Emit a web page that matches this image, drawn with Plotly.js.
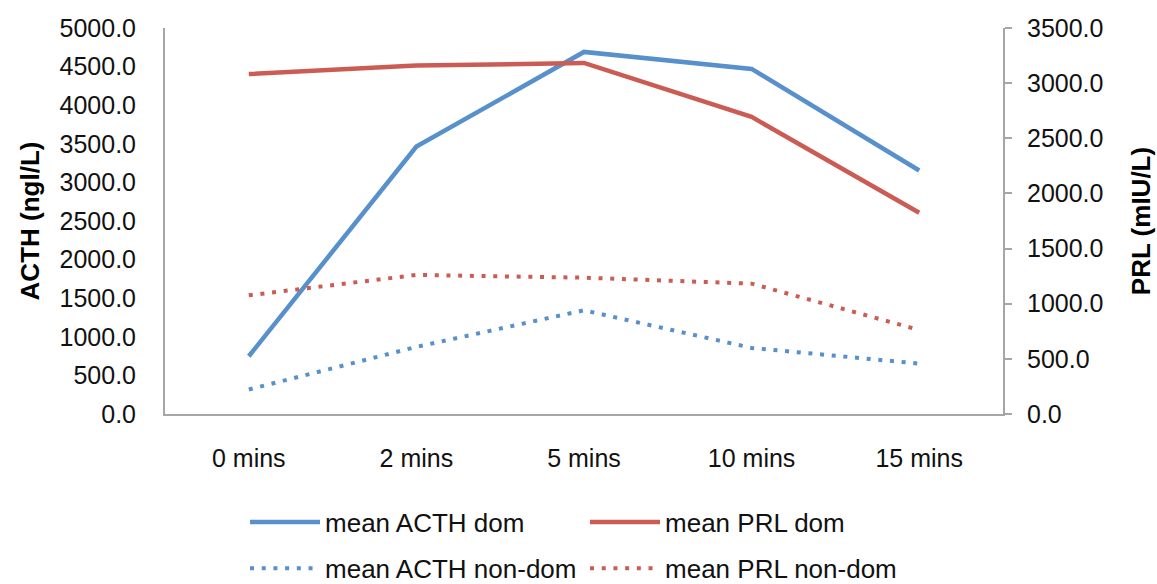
<!DOCTYPE html>
<html>
<head>
<meta charset="utf-8">
<script src="https://cdn.plot.ly/plotly-3.0.1.min.js"></script>
<style>html,body{margin:0;padding:0;background:#fff;}#chart{width:1157px;height:584px;}</style>
</head>
<body>
<div id="chart"></div>
<script>
const categories = ["0 mins", "2 mins", "5 mins", "10 mins", "15 mins"];
const acthDom = [748, 3464, 4690, 4470, 3154];
const prlDom = [3083, 3159, 3183, 2694, 1825];
const acthNonDom = [317, 869, 1343, 856, 653];
const prlNonDom = [1076, 1261, 1236, 1182, 762];
const leftTicks = [0, 500, 1000, 1500, 2000, 2500, 3000, 3500, 4000, 4500, 5000];
const rightTicks = [0, 500, 1000, 1500, 2000, 2500, 3000, 3500];

const blue = "#5790CB";
const red = "#CB5C54";
const dotDash = "4px,7.7px";
const font = {family: "Liberation Sans, Arial, sans-serif", size: 25, color: "#111"};
const legendFont = {family: "Liberation Sans, Arial, sans-serif", size: 26, color: "#111"};
const titleFont = {family: "Liberation Sans, Arial, sans-serif", size: 26, color: "#000", weight: "bold"};

const traces = [
  {x: categories, y: acthDom, name: "mean ACTH dom", type: "scatter", mode: "lines",
   line: {color: blue, width: 4.5}, yaxis: "y", legend: "legend"},
  {x: categories, y: prlDom, name: "mean PRL dom", type: "scatter", mode: "lines",
   line: {color: red, width: 4.5}, yaxis: "y2", legend: "legend"},
  {x: categories, y: acthNonDom, name: "mean ACTH non-dom", type: "scatter", mode: "lines",
   line: {color: blue, width: 4, dash: dotDash}, yaxis: "y", legend: "legend2"},
  {x: categories, y: prlNonDom, name: "mean PRL non-dom", type: "scatter", mode: "lines",
   line: {color: red, width: 4, dash: dotDash}, yaxis: "y2", legend: "legend2"}
];

const axisLine = "#a6a6a6";
const legendCommon = {
  orientation: "h", x: 0.0955, xanchor: "left", yanchor: "middle",
  xref: "paper", yref: "container", font: legendFont, itemwidth: 70,
  entrywidth: 255, entrywidthmode: "pixels", bgcolor: "rgba(0,0,0,0)"
};
const layout = {
  width: 1157, height: 584,
  paper_bgcolor: "#fff", plot_bgcolor: "#fff",
  margin: {l: 165, r: 154, t: 28, b: 169.5},
  font: font,
  showlegend: true,
  xaxis: {
    type: "category", range: [-0.5, 4.5], showgrid: false, zeroline: false,
    showline: true, linecolor: axisLine, linewidth: 2, ticks: "",
    ticklabelstandoff: 21, tickfont: font
  },
  yaxis: {
    range: [0, 5000], tickvals: leftTicks, ticktext: leftTicks.map(v => v.toFixed(1)),
    showgrid: false, zeroline: false, showline: true, linecolor: axisLine, linewidth: 2,
    ticks: "", ticklabelstandoff: 22, tickfont: font,
    title: {text: "ACTH (ngl/L)", font: titleFont, standoff: 12}
  },
  yaxis2: {
    range: [0, 3500], tickvals: rightTicks, ticktext: rightTicks.map(v => v.toFixed(1)),
    overlaying: "y", side: "right", anchor: "x",
    showgrid: false, zeroline: false, showline: true, linecolor: axisLine, linewidth: 2,
    ticks: "outside", ticklen: 7, tickcolor: axisLine, tickwidth: 2, ticklabelstandoff: 10, tickfont: font,
    title: {text: "PRL (mIU/L)", font: titleFont, standoff: 29}
  },
  legend: Object.assign({}, legendCommon, {y: 0.106}),
  legend2: Object.assign({}, legendCommon, {y: 0.027})
};

Plotly.newPlot("chart", traces, layout, {displayModeBar: false, staticPlot: true});
</script>
</body>
</html>
